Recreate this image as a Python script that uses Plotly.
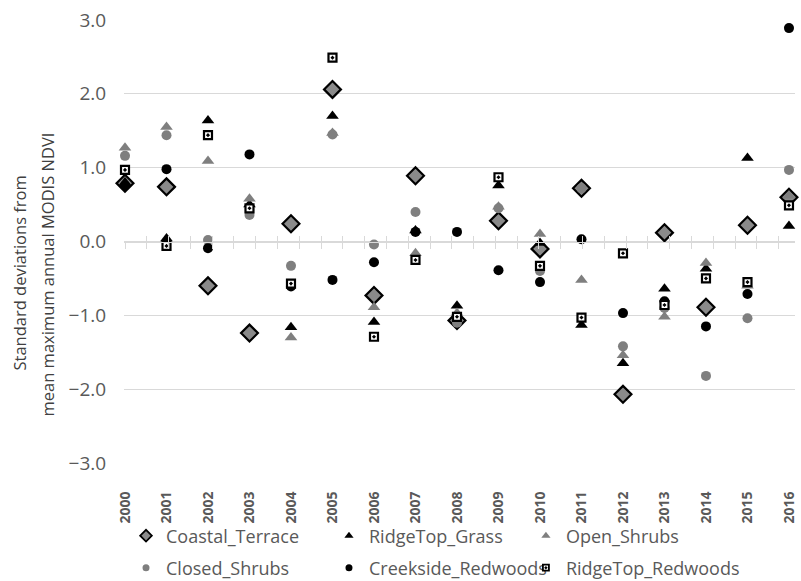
import plotly.graph_objects as go

years = list(range(2000, 2017))
coastal_terrace = [0.79, 0.74, -0.60, -1.24, 0.24, 2.06, -0.73, 0.89, -1.07, 0.28, -0.10, 0.72, -2.07, 0.12, -0.89, 0.22, 0.60]
ridgetop_grass = [0.80, 0.04, 1.64, 0.50, -1.16, 1.70, -1.09, 0.15, -0.87, 0.76, -0.02, -1.13, -1.65, -0.64, -0.37, 1.13, 0.21]
open_shrubs = [1.27, 1.55, 1.09, 0.58, -1.30, 1.47, -0.89, -0.16, -0.97, 0.47, 0.10, -0.52, -1.54, -1.02, -0.29, -0.60, 0.62]
closed_shrubs = [1.16, 1.44, 0.02, 0.36, -0.33, 1.45, -0.04, 0.40, -1.10, 0.45, -0.40, 0.72, -1.42, -0.90, -1.82, -1.04, 0.97]
creekside_redwoods = [0.76, 0.98, -0.09, 1.18, -0.61, -0.52, -0.28, 0.13, 0.13, -0.39, -0.55, 0.03, -0.97, -0.81, -1.15, -0.71, 2.89]
ridgetop_redwoods = [0.97, -0.06, 1.44, 0.45, -0.57, 2.49, -1.29, -0.25, -1.02, 0.87, -0.33, -1.03, -0.16, -0.86, -0.50, -0.55, 0.49]
y_ticks = [-3, -2, -1, 0, 1, 2, 3]
title_lines = ["Standard deviations from", "mean maximum annual MODIS NDVI"]

GRAY = "#7f7f7f"
TXT = "#595959"
GRID = "#d9d9d9"
FONT = "Open Sans"
CLEAR = "rgba(0,0,0,0)"

# name, values, plot marker, legend marker, (legend column, legend row)
series = [
    ("Coastal_Terrace", coastal_terrace, dict(symbol="diamond", size=13, color="#8a8a8a", line=dict(color="black", width=2.2)), dict(symbol="diamond", size=9, color="#8a8a8a", line=dict(color="black", width=1.8)), (0, 0)),
    ("RidgeTop_Grass", ridgetop_grass, dict(symbol="triangle-up", size=11, color="black", line=dict(width=0)), dict(symbol="triangle-up", size=8, color="black", line=dict(width=0)), (1, 0)),
    ("Open_Shrubs", open_shrubs, dict(symbol="triangle-up", size=11, color=GRAY, line=dict(width=0)), dict(symbol="triangle-up", size=8, color=GRAY, line=dict(width=0)), (2, 0)),
    ("Closed_Shrubs", closed_shrubs, dict(symbol="circle", size=10, color=GRAY, line=dict(width=0)), dict(symbol="circle", size=7, color=GRAY, line=dict(width=0)), (0, 1)),
    ("Creekside_Redwoods", creekside_redwoods, dict(symbol="circle", size=10, color="black", line=dict(width=0)), dict(symbol="circle", size=7, color="black", line=dict(width=0)), (1, 1)),
    ("RidgeTop_Redwoods", ridgetop_redwoods, dict(symbol="square-dot", size=8, color="white", line=dict(color="black", width=2.2)), dict(symbol="square-dot", size=6, color="white", line=dict(color="black", width=1.8)), (2, 1)),
]

COLS = [0.003, 0.3055, 0.599]
ROWS = [1 - 536 / 581, 1 - 568 / 581]

fig = go.Figure()
for name, vals, mk, lmk, pos in series:
    fig.add_trace(go.Scatter(x=years, y=vals, mode="markers", name=name, marker=mk,
                             showlegend=False, cliponaxis=False, hoverinfo="skip"))

legend_layout = {}
for i, (name, vals, mk, lmk, pos) in enumerate(series):
    lid = "legend" if i == 0 else f"legend{i + 1}"
    fig.add_trace(go.Scatter(x=[None], y=[None], mode="markers", name=name, marker=lmk,
                             showlegend=True, legend=lid,
                             xaxis="x2" if i % 2 == 0 else "x3"))
    legend_layout[lid] = dict(x=COLS[pos[0]], y=ROWS[pos[1]], orientation="h",
                              xanchor="left", yanchor="middle", yref="container",
                              bgcolor=CLEAR, font=dict(size=18, color=TXT, family=FONT),
                              itemclick=False, itemdoubleclick=False)

xr = [1999.976, 2016.145]
fig.update_layout(
    width=801, height=581,
    margin=dict(l=124, r=6, t=20, b=118),
    paper_bgcolor="white", plot_bgcolor="white",
    font=dict(family=FONT, color=TXT),
    xaxis=dict(range=xr, tickvals=years, ticktext=[str(y) for y in years], tickangle=-90,
               showgrid=False, showline=False, zeroline=False, automargin=False,
               ticks="outside", ticklen=22, tickcolor=CLEAR,
               tickfont=dict(size=14, color=TXT, family=FONT, weight="bold")),
    xaxis2=dict(range=xr, overlaying="x", anchor="free", position=0.5, side="bottom",
                showgrid=False, zeroline=False, showline=True, linecolor=GRID, linewidth=1,
                ticks="outside", ticklen=6, tickcolor=GRID, tickwidth=1, automargin=False,
                tick0=2000, dtick=0.525, showticklabels=False),
    xaxis3=dict(range=xr, overlaying="x", anchor="free", position=0.5, side="bottom",
                showgrid=False, zeroline=False, showline=False, automargin=False,
                ticks="inside", ticklen=6, tickcolor=GRID, tickwidth=1,
                tick0=2000, dtick=0.525, showticklabels=False),
    yaxis=dict(range=[-3, 3], tickvals=y_ticks, tickformat=".1f", automargin=False,
               showgrid=True, gridcolor=GRID, gridwidth=1, zeroline=True, zerolinecolor=GRID,
               zerolinewidth=1, showline=False, ticks="outside", ticklen=13, tickcolor=CLEAR,
               tickfont=dict(size=19, color=TXT, family=FONT)),
    annotations=[
        dict(text=title_lines[0], xref="paper", yref="paper", x=0, y=0.5,
             xanchor="center", yanchor="middle", xshift=-105, yshift=-32,
             textangle=-90, showarrow=False, font=dict(size=16.5, color="#404040", family=FONT)),
        dict(text=title_lines[1], xref="paper", yref="paper", x=0, y=0.5,
             xanchor="center", yanchor="middle", xshift=-77, yshift=-33,
             textangle=-90, showarrow=False, font=dict(size=16.5, color="#404040", family=FONT)),
    ],
    **legend_layout,
)

fig.write_html("out.html", config={"displayModeBar": False},
               post_script="document.body.style.margin='0';document.body.style.overflow='hidden';")
